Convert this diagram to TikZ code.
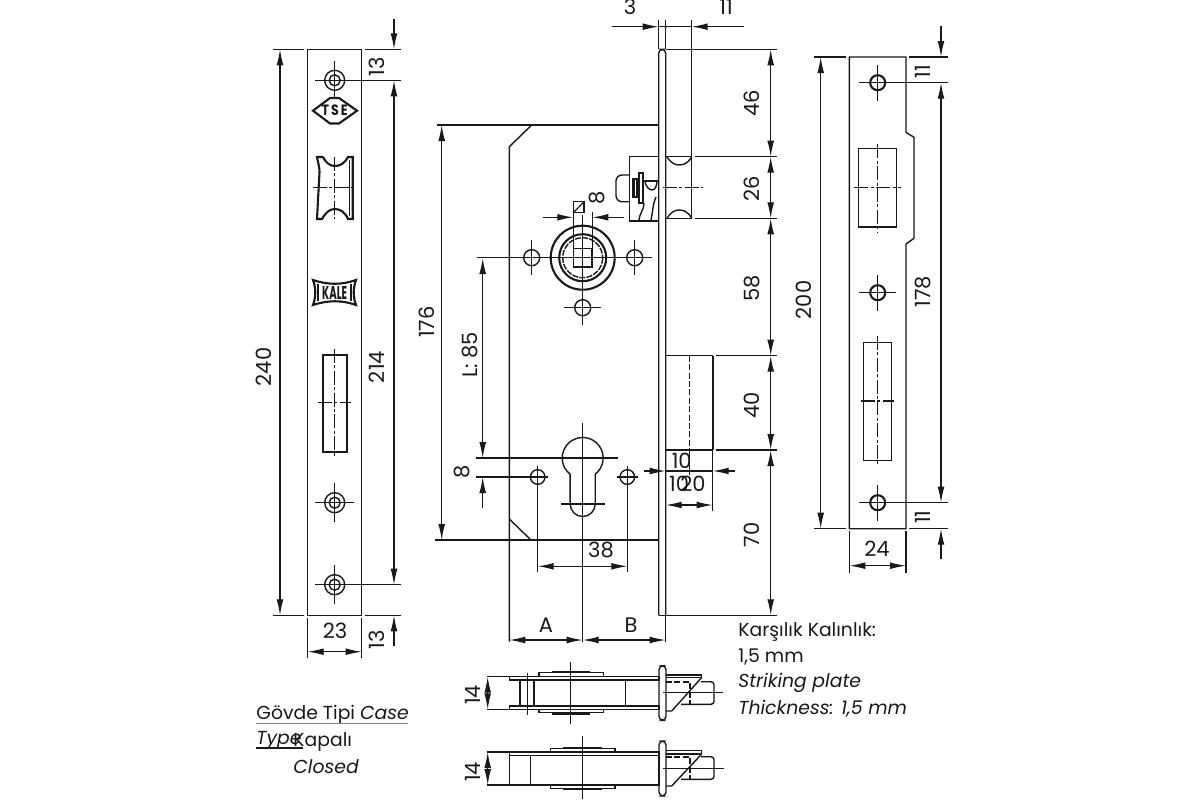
\documentclass[tikz,border=0pt]{standalone}
\usepackage{fontspec}
\setmainfont{Poppins}
\usetikzlibrary{arrows.meta}
\definecolor{liniaFosca}{RGB}{25,25,25}
\tikzstyle{peca} = [line width=.7pt, draw=liniaFosca]
\tikzstyle{gruixut} = [line width=1.05pt, draw=liniaFosca]
\tikzstyle{fina} = [line width=.6pt, draw=liniaFosca]
\tikzstyle{eix} = [line width=.6pt, draw=liniaFosca, dash pattern=on 7pt off 1.2pt on 1.5pt off 1.2pt]
\tikzstyle{ocult} = [line width=.55pt, draw=liniaFosca, dash pattern=on 3pt off 1.2pt]
\tikzstyle{fletxa} = [fina, -{Latex[length=8pt,width=3.4pt]}]
\tikzstyle{fletxaDoble} = [fina, {Latex[length=8pt,width=3.4pt]}-{Latex[length=8pt,width=3.4pt]}]
\tikzstyle{cota} = [font=\fontsize{10.5}{12}\selectfont, text=liniaFosca, inner sep=0]
\tikzstyle{cotaV} = [cota, rotate=90]
\tikzstyle{nota} = [font=\fontsize{9.4}{11}\selectfont, text=liniaFosca, inner sep=0, anchor=west]
\tikzstyle{marca} = [font=\fontsize{6}{6}\selectfont\bfseries, text=liniaFosca, inner sep=0, transform shape]

\begin{document}
\begin{tikzpicture}[x=.5pt,y=-.5pt]
	\useasboundingbox (0,0) rectangle (1200,800);
	
	% Placa esquerra
	\draw [peca] (307.7,49.3) rectangle (361.7,615.3);
	\draw [peca] (334.7,80.3) circle (10) circle (5.5);
	\fill [liniaFosca] (334.7,80.3) circle (1);
	\draw [fina] (315,80.3) -- (401,80.3);
	\draw [fina] (334.7,60.7) -- (334.7,99);
	\draw [peca] (334.7,502.7) circle (10) circle (5.5);
	\fill [liniaFosca] (334.7,502.7) circle (1);
	\draw [fina] (315,502.7) -- (354,502.7);
	\draw [fina] (334.7,483) -- (334.7,522);
	\draw [peca] (334.7,584.7) circle (10) circle (5.5);
	\fill [liniaFosca] (334.7,584.7) circle (1);
	\draw [fina] (315,584.7) -- (401,584.7);
	\draw [fina] (334.7,565) -- (334.7,604);
	
	% Logotips
	\draw [gruixut] (313,110.7) -- (330,98) -- (339,98) -- (357,110.7) -- (339,123.5) -- (330,123.5) -- cycle;
	\node (logoTse) [marca, xscale=1.05, yscale=1.25] at (334.7,110.7) {T\,S\,E};
	\draw [gruixut] (313,280) .. controls (328,285) and (342,285) .. (356,280) .. controls (353,288) and (353,297) .. (356,305) .. controls (342,300) and (328,300) .. (313,305) .. controls (316,297) and (316,288) .. (313,280) -- cycle;
	\draw [gruixut] (318,284) -- (318,301);
	\draw [gruixut] (351,284) -- (351,301);
	\node (logoKale) [marca, xscale=.85, yscale=1.55] at (334.7,292.5) {KALE};
	
	% Forat de la placa esquerra
	\draw [gruixut] (323,157) -- (317,157) .. controls (318,162) and (319.5,167) .. (319.5,172) -- (318,200) -- (317,219) -- (322,219) .. controls (326,212) and (330,209) .. (335,209) .. controls (340,209) and (345,212) .. (348,219) -- (352.7,219) -- (352.7,157) -- (348,157) .. controls (345,163) and (340,166) .. (335,166) .. controls (330,166) and (326,163) .. (323,157);
	\draw [peca] (349.5,160) -- (349.5,216);
	\draw [eix] (334.7,157) -- (334.7,219);
	\draw [eix] (312.7,187.7) -- (356,187.7);
	\draw [gruixut] (323,354.7) rectangle (346.7,451.7);
	\draw [eix] (334.7,349) -- (334.7,457.7);
	\draw [eix] (317.7,402.7) -- (351,402.7);
	
	% Cotes de la placa esquerra
	\draw [fina] (273,49.3) -- (304,49.3);
	\draw [fina] (273,615.3) -- (304,615.3);
	\draw [fletxaDoble] (280,49.3) -- (280,615.3);
	\node (cota240) [cotaV] at (264,367) {240};
	\draw [fina] (365,49.3) -- (401,49.3);
	\draw [fina] (365,615.3) -- (401,615.3);
	\draw [fletxa] (394,19) -- (394,49.3);
	\draw [fletxaDoble] (394,80.3) -- (394,584.7);
	\draw [fletxa] (394,646) -- (394,615.3);
	\node (cota13a) [cotaV] at (377,66.7) {13};
	\node (cota214) [cotaV] at (377,367) {214};
	\node (cota13b) [cotaV] at (377,640) {13};
	\draw [fina] (307.7,618) -- (307.7,658);
	\draw [fina] (361.7,618) -- (361.7,658);
	\draw [fletxaDoble] (307.7,651.7) -- (361.7,651.7);
	\node (cota23) [cota] at (335,631) {23};
	
	% Cos del pany
	\draw [peca, rounded corners=2pt] (658.7,615.3) -- (658.7,49.3) -- (665.7,49.3) -- (665.7,615.3);
	\draw [fina] (437,125) -- (658.7,125);
	\draw [peca] (531.7,125) -- (509.3,146.7) -- (509.3,641.7);
	\draw [fina] (435,540) -- (658.7,540);
	\draw [peca] (509.3,519) -- (531,540);
	\draw [peca] (665.7,615.3) -- (665.7,641.7);
	\draw [peca] (658.7,615.3) -- (776.7,615.3);
	
	% Picaporta
	\draw [peca] (665.7,156.7) -- (691.7,156.7) (665.7,218.3) -- (691.7,218.3);
	\draw [peca] (691.7,20) -- (691.7,218.3);
	\draw [peca] (667,157) .. controls (671,163) and (675,165) .. (679,165) .. controls (684,165) and (688,163) .. (691.7,157);
	\draw [peca] (667,218) .. controls (671,212) and (675,210) .. (679,210) .. controls (684,210) and (688,212) .. (691.7,218);
	\draw [eix] (663,187.7) -- (702.7,187.7);
	\draw [peca] (658.7,156.7) -- (629.7,156.7) -- (629.7,221) -- (658.7,221);
	\draw [peca, rounded corners=3pt] (630,175) -- (616,175) -- (616,201.7) -- (630,201.7);
	\draw [gruixut] (633.5,179) rectangle (637,197);
	\draw [peca] (639,173) rectangle (643,203);
	\draw [peca] (643,181) -- (658.7,181);
	\draw [peca] (645,181) .. controls (646,188) and (650,190) .. (652,190) .. controls (655,190) and (657,186) .. (657,181);
	\draw [peca] (639,220) .. controls (640,212) and (644,210) .. (644,203);
	\draw [peca] (651,220) .. controls (653,210) and (653,203) .. (656,197);
	
	% Nou
	\draw [gruixut] (582.7,257.7) circle (32);
	\draw [gruixut] (582.7,257.7) circle (23.5);
	\draw [peca, dash pattern=on 3pt off .6pt] (582.7,257.7) circle (20);
	\draw [peca] (573.3,248.4) rectangle (592.1,267);
	\draw [peca] (531.7,257.7) circle (8);
	\draw [peca] (634.7,257.7) circle (8);
	\draw [peca] (582.7,307.7) circle (8);
	\draw [fina] (477,257.7) -- (652,257.7);
	\draw [fina] (582.7,215) -- (582.7,325);
	\draw [fina] (531.7,240) -- (531.7,275);
	\draw [fina] (634.7,240) -- (634.7,275);
	\draw [fina] (564,307.7) -- (601,307.7);
	\draw [fina] (573.3,212.7) -- (573.3,248);
	\draw [fina] (592.3,212) -- (592.3,248);
	\draw [fletxa] (542.7,217.3) -- (573.3,217.3);
	\draw [fletxa] (624,217.3) -- (592.3,217.3);
	\draw [peca] (573.3,201.7) rectangle (584,212.7);
	\draw [fina] (573.3,212.7) -- (584,201.7);
	\node (cota8a) [cotaV] at (596.7,197.7) {8};
	
	% Bombin
	\draw [peca] (595.2,474.2) arc [start angle=52.3, end angle=-232.3, radius=20.5] -- (570.2,504) arc [start angle=180, end angle=0, radius=12.5] -- cycle;
	\draw [fina] (582.7,422.7) -- (582.7,641.7);
	\draw [fina] (476,458) -- (618,458);
	\draw [fina] (476,477) -- (548,477);
	\draw [fina] (560.7,504) -- (605,504);
	\draw [peca] (537.7,477) circle (7.3);
	\draw [peca] (627.3,477) circle (7.3);
	\draw [fina] (616.7,477) -- (638,477);
	\draw [fina] (537.7,466) -- (537.7,571.7);
	\draw [fina] (627.3,466) -- (627.3,571.7);
	\draw [fletxaDoble] (537.7,566.3) -- (627.3,566.3);
	\node (cota38) [cota] at (601,550) {38};
	
	% Pestell
	\draw [peca] (665.7,355.7) -- (712.7,355.7);
	\draw [gruixut] (712.7,355.7) -- (712.7,450);
	\draw [peca] (665.7,450) -- (712.7,450);
	\draw [ocult] (689.3,355.7) -- (689.3,450);
	\draw [fina] (689.3,450) -- (689.3,475);
	\draw [fina] (665.7,450) -- (665.7,511);
	\draw [fina] (712.7,450) -- (712.7,511);
	\draw [fletxa] (644,471) -- (665.7,471);
	\draw [fletxa] (735,471) -- (712.7,471);
	\draw [fina] (665.7,471) -- (712.7,471);
	\draw [fletxaDoble] (665.7,505) -- (712.7,505);
	\node (cota10a) [cota] at (681.7,461) {10};
	\node (cota10b) [cota] at (679,484) {10};
	\node (cota20) [cota] at (693,484) {20};
	
	% Cotes del cos
	\draw [fletxaDoble] (441.7,125) -- (441.7,540);
	\node (cota176) [cotaV] at (427,322) {176};
	\draw [fletxaDoble] (482.7,258) -- (482.7,458);
	\node (cotaL) [cotaV] at (470,355) {L: 85};
	\draw [fletxa] (482.7,508) -- (482.7,477);
	\node (cota8b) [cotaV] at (462,472) {8};
	\draw [fletxaDoble] (509.3,640) -- (582.7,640);
	\draw [fletxaDoble] (582.7,640) -- (665.7,640);
	\node (cotaA) [cota] at (546,625) {A};
	\node (cotaB) [cota] at (631,625) {B};
	\draw [fina] (658.7,20) -- (658.7,49.3);
	\draw [fina] (665.7,20) -- (665.7,49.3);
	\draw [fletxa] (611.7,26.7) -- (658.7,26.7);
	\draw [fletxa] (744,26.7) -- (691.7,26.7);
	\draw [fina] (658.7,26.7) -- (691.7,26.7);
	\fill [liniaFosca] (665.7,26.7) circle (1.5);
	\node (cota3) [cota] at (630,7) {3};
	\node (cota11) [cota] at (726,7) {11};
	\draw [fina] (665.7,49.3) -- (776.7,49.3);
	\draw [fina] (695,156.7) -- (776.7,156.7);
	\draw [fina] (695,218.3) -- (776.7,218.3);
	\draw [fina] (716,355.7) -- (776.7,355.7);
	\draw [fina] (716,450) -- (776.7,450);
	\draw [fletxaDoble] (770.7,49.3) -- (770.7,156.7);
	\draw [fletxaDoble] (770.7,156.7) -- (770.7,218.3);
	\draw [fletxaDoble] (770.7,218.3) -- (770.7,355.7);
	\draw [fletxaDoble] (770.7,355.7) -- (770.7,450);
	\draw [fletxaDoble] (770.7,450) -- (770.7,615.3);
	\node (cota46) [cotaV] at (752,103) {46};
	\node (cota26) [cotaV] at (752,189) {26};
	\node (cota58) [cotaV] at (752,288) {58};
	\node (cota40) [cotaV] at (752,405) {40};
	\node (cota70) [cotaV] at (752,535) {70};
	
	% Placa dreta
	\draw [peca] (906,57) -- (849.3,57) -- (849.3,528.7) -- (906,528.7) -- (906,244) -- (914,238.3) -- (914,137.3) -- (906,132.3) -- cycle;
	\draw [gruixut] (877.7,82.7) circle (7.5);
	\draw [gruixut] (877.7,292.7) circle (7.5);
	\draw [gruixut] (877.7,502.7) circle (7.5);
	\draw [fina] (859.3,82.7) -- (947.7,82.7);
	\draw [fina] (877.7,65) -- (877.7,101);
	\draw [fina] (859.3,292.7) -- (896,292.7);
	\draw [fina] (877.7,275) -- (877.7,310.7);
	\draw [fina] (859.3,502.7) -- (947.7,502.7);
	\draw [fina] (877.7,485) -- (877.7,520.7);
	\draw [peca] (858.3,148.7) rectangle (896.7,227);
	\draw [eix] (877.7,144.3) -- (877.7,231.7);
	\draw [eix] (854.3,187.7) -- (900.7,187.7);
	\draw [peca] (863.7,342.3) rectangle (891.3,460.7);
	\draw [eix] (877.7,336) -- (877.7,466);
	\draw [eix] (861,401) -- (894.3,401);
	
	% Cotes de la placa dreta
	\draw [fina] (814,57) -- (846,57);
	\draw [fina] (814,528.7) -- (846,528.7);
	\draw [fletxaDoble] (820.7,57) -- (820.7,528.7);
	\node (cota200) [cotaV] at (804,300) {200};
	\draw [fina] (909,57) -- (947.7,57);
	\draw [fina] (909,528.7) -- (947.7,528.7);
	\draw [fletxa] (941,26) -- (941,57);
	\draw [fletxaDoble] (941,82.7) -- (941,502.7);
	\draw [fletxa] (941,559) -- (941,528.7);
	\node (cota11a) [cotaV] at (923,71.7) {11};
	\node (cota178) [cotaV] at (923,291.7) {178};
	\node (cota11b) [cotaV] at (923,517) {11};
	\draw [fina] (849.3,531) -- (849.3,573);
	\draw [fina] (906,531) -- (906,573);
	\draw [fletxaDoble] (849.3,565.7) -- (906,565.7);
	\node (cota24) [cota] at (877,549) {24};
	
	% Vista inferior 1
	\draw [peca] (509.3,676.7) rectangle (659,680);
	\draw [peca] (509.3,706) rectangle (659,709.3);
	\draw [peca] (539,676.7) -- (539,672.7) -- (603.3,672.7) -- (603.3,676.7);
	\draw [gruixut] (551.7,672) -- (590,672);
	\draw [peca] (539,709.3) -- (539,712.7) -- (603.3,712.7) -- (603.3,709.3);
	\draw [gruixut] (551.7,713.5) -- (590,713.5);
	\draw [fina] (570.7,661.7) -- (570.7,724);
	\draw [peca] (520,680) -- (520,706);
	\draw [peca] (527.3,673) -- (527.3,715);
	\draw [peca] (534,680) -- (534,706);
	\draw [peca] (625.7,680) -- (625.7,706);
	\draw [peca, rounded corners=2pt] (659,665.7) rectangle (666,720.3);
	\draw [peca] (666,675) -- (701.7,675) -- (701.7,677.5);
	\draw [peca] (701.7,677.5) -- (671.7,711) -- (666,711);
	\draw [peca] (666,677.5) -- (701.7,677.5);
	\draw [peca, rounded corners=1.5pt] (701,681.7) -- (714,681.7) -- (714,704.3) -- (681,704.3);
	\draw [ocult] (666,682) -- (690,682) -- (690,704);
	\draw [fina] (663,692.7) -- (722.7,692.7);
	\draw [fina] (486.7,676.7) -- (509.3,676.7);
	\draw [fina] (486.7,709.3) -- (509.3,709.3);
	\draw [fletxaDoble] (487.7,676.7) -- (487.7,709.3);
	\node (cota14a) [cotaV] at (473,695) {14};
	
	% Vista inferior 2
	\draw [peca] (509.3,752) rectangle (659,785);
	\draw [peca] (509.3,755.3) -- (659,755.3);
	\draw [peca] (530.7,755.3) -- (530.7,785);
	\draw [peca] (550.7,752) -- (550.7,748.3) -- (615,748.3) -- (615,752);
	\draw [gruixut] (563.3,747.6) -- (601.7,747.6);
	\draw [peca] (550.7,785) -- (550.7,788.3) -- (615,788.3) -- (615,785);
	\draw [gruixut] (563.3,789) -- (601.7,789);
	\draw [fina] (582.7,736) -- (582.7,799);
	\draw [peca, rounded corners=2pt] (659,741) rectangle (666,796);
	\draw [peca] (666,750.5) -- (701.7,750.5) -- (701.7,754);
	\draw [peca] (701.7,754) -- (671.7,786) -- (666,786);
	\draw [peca] (666,754) -- (701.7,754);
	\draw [peca, rounded corners=1.5pt] (701,756.7) -- (714,756.7) -- (714,779.3) -- (681,779.3);
	\draw [ocult] (666,757) -- (690,757) -- (690,779);
	\draw [fina] (663,768.3) -- (724,768.3);
	\draw [fina] (486.7,752) -- (509.3,752);
	\draw [fina] (486.7,785) -- (509.3,785);
	\draw [fletxaDoble] (487.7,752) -- (487.7,785);
	\node (cota14b) [cotaV] at (473,772) {14};
	
	% Textos
	\node (notaKarsilik) [nota] at (738,632) {Karşılık Kalınlık:};
	\node (notaMm) [nota] at (738,657) {1,5 mm};
	\node (notaStriking) [nota] at (738,683) {\itshape Striking plate};
	\node (notaThickness) [nota] at (738,709) {\itshape Thickness: 1,5 mm};
	\node (notaGovde) [nota] at (256,715) {Gövde Tipi \itshape Case};
	\draw [fina, draw=gray] (256,723.5) -- (408,723.5);
	\node (notaType) [nota] at (256,740) {\itshape Type};
	\draw [fina] (256,748) -- (303,748);
	\node (notaKapali) [nota] at (293,742) {Kapalı};
	\node (notaClosed) [nota] at (293,767) {\itshape Closed};
\end{tikzpicture}
\end{document}
